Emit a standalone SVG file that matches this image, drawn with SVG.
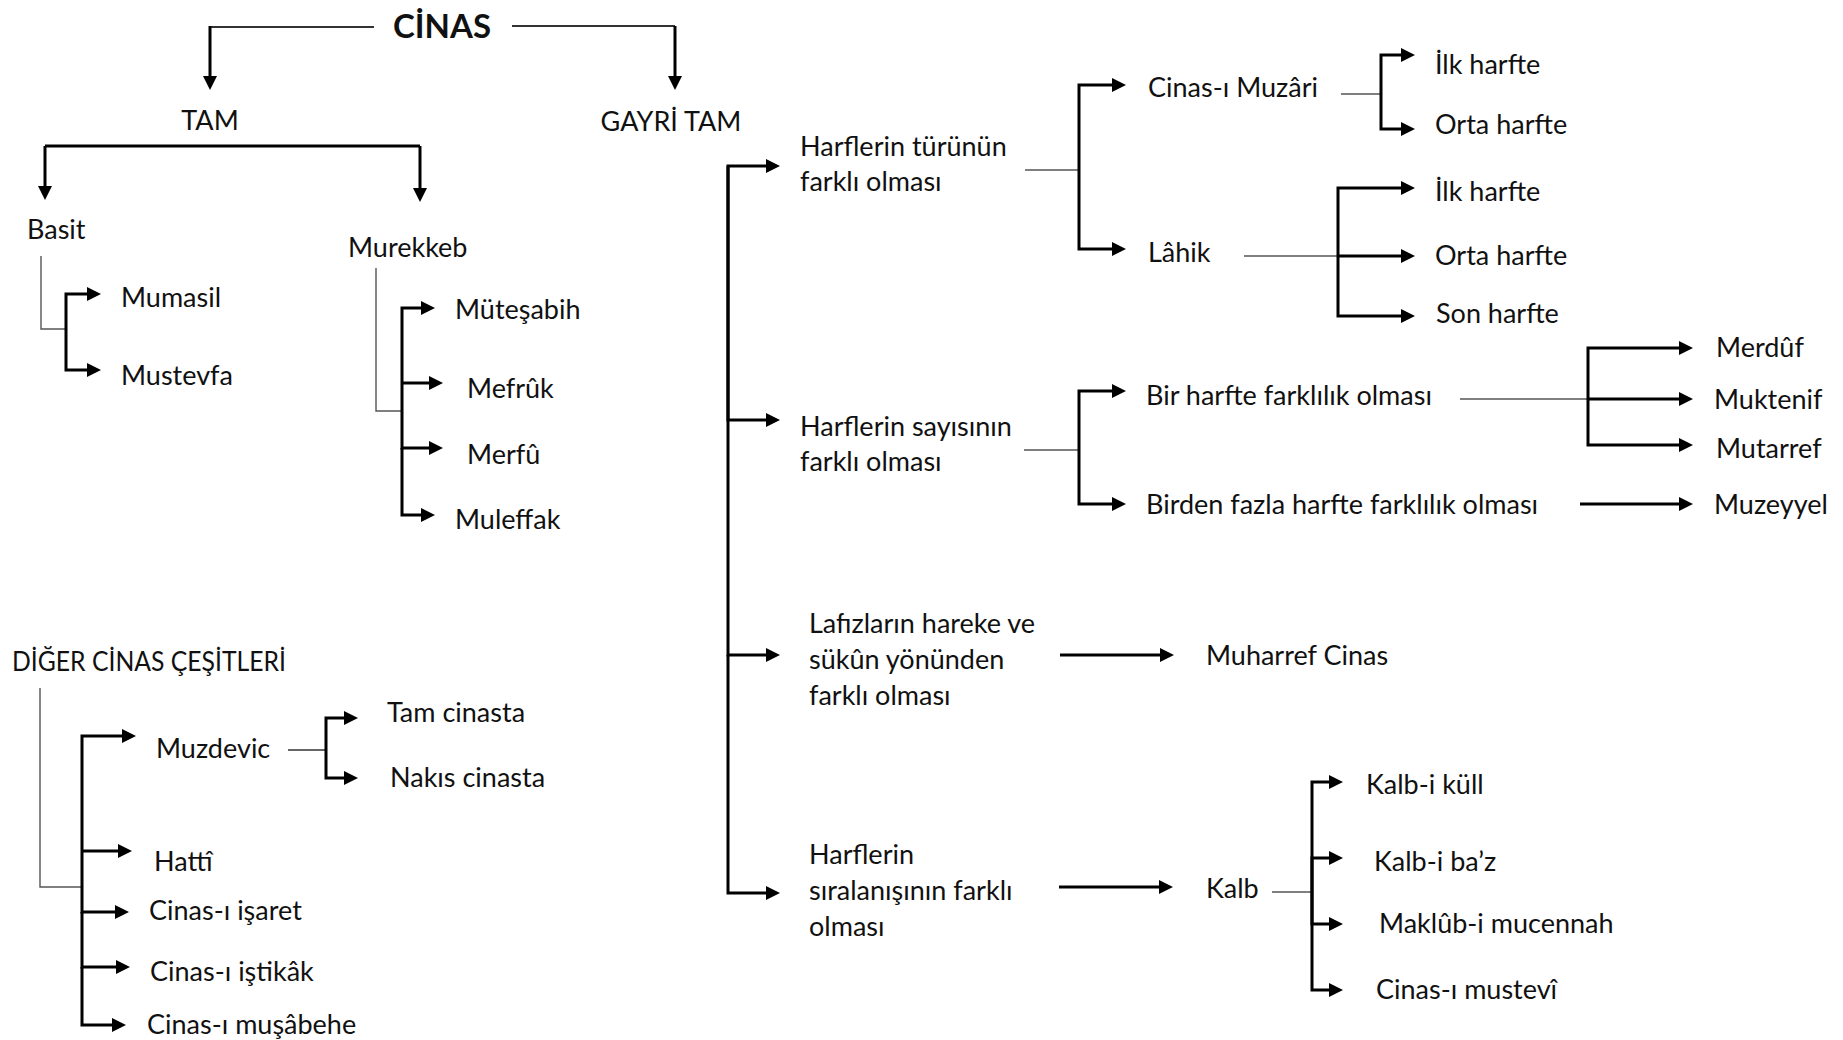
<svg xmlns="http://www.w3.org/2000/svg" width="1843" height="1040" viewBox="0 0 1843 1040">
<style>
text{font-family:Lato,"Liberation Sans",sans-serif;font-size:27px;fill:#111}
.title{font-weight:bold;font-size:33px}
.mid{text-anchor:middle}
.thick{fill:none;stroke:#000;stroke-width:3}
.thin{fill:none;stroke:#555;stroke-width:1.4}
.arr{marker-end:url(#ah)}
</style>
<defs>
<marker id="ah" viewBox="0 0 14 14" refX="3" refY="7" markerWidth="14" markerHeight="14" markerUnits="userSpaceOnUse" orient="auto">
<path d="M0,0 L14,7 L0,14 z" fill="#000"/>
</marker>
</defs>
<rect width="1843" height="1040" fill="#fff"/>
<g id="connectors">
<!-- CINAS -->
<path class="thin" d="M374,27 H210" style="stroke:#333;stroke-width:2"/>
<path class="thick arr" d="M210,26 V79"/>
<path class="thin" d="M512,26 H675" style="stroke:#333;stroke-width:2"/>
<path class="thick arr" d="M675,26 V79"/>
<!-- TAM -->
<path class="thick" d="M45,146 H420"/>
<path class="thick arr" d="M45,146 V189"/>
<path class="thick arr" d="M420,146 V191"/>
<!-- Basit -->
<path class="thin" d="M41,256 V329 H66"/>
<path class="thick arr" d="M66,329 V294 H90"/>
<path class="thick arr" d="M66,329 V370 H90"/>
<!-- Murekkeb -->
<path class="thin" d="M376,268 V411 H402"/>
<path class="thick arr" d="M402,411 V308 H424"/>
<path class="thick arr" d="M402,383 H432"/>
<path class="thick arr" d="M402,411 V448 H432"/>
<path class="thick arr" d="M402,448 V515 H424"/>
<!-- Diger -->
<path class="thin" d="M40,688 V887 H82"/>
<path class="thick arr" d="M82,887 V736 H125"/>
<path class="thick arr" d="M82,851 H121"/>
<path class="thick arr" d="M82,887 V912 H118"/>
<path class="thick arr" d="M82,912 V967 H119"/>
<path class="thick arr" d="M82,967 V1025 H115"/>
<!-- Muzdevic -->
<path class="thin" d="M288,750 H326" style="stroke:#333"/>
<path class="thick arr" d="M326,750 V718 H347"/>
<path class="thick arr" d="M326,750 V778 H347"/>
<!-- Gayri tam -->
<path class="thick arr" d="M728,420 V166 H769"/>
<path class="thick arr" d="M728,166 V420 H769"/>
<path class="thick arr" d="M728,420 V655 H769"/>
<path class="thick arr" d="M728,655 V893 H769"/>
<!-- Harflerin turunun -->
<path class="thin" d="M1025,170 H1079"/>
<path class="thick arr" d="M1079,170 V85 H1115"/>
<path class="thick arr" d="M1079,170 V249 H1115"/>
<!-- Muzari -->
<path class="thin" d="M1341,94 H1381"/>
<path class="thick arr" d="M1381,94 V55 H1404"/>
<path class="thick arr" d="M1381,94 V129 H1404"/>
<!-- Lahik -->
<path class="thin" d="M1244,256 H1338"/>
<path class="thick arr" d="M1338,256 V188 H1404"/>
<path class="thick arr" d="M1338,256 H1404"/>
<path class="thick arr" d="M1338,256 V316 H1404"/>
<!-- Sayisinin -->
<path class="thin" d="M1024,450 H1079"/>
<path class="thick arr" d="M1079,450 V391 H1115"/>
<path class="thick arr" d="M1079,450 V504 H1115"/>
<!-- Bir harfte -->
<path class="thin" d="M1460,399 H1588"/>
<path class="thick arr" d="M1588,399 V348 H1682"/>
<path class="thick arr" d="M1588,399 H1682"/>
<path class="thick arr" d="M1588,399 V445 H1682"/>
<!-- Birden fazla -->
<path class="thick arr" d="M1580,504 H1682"/>
<!-- Lafizlarin -->
<path class="thick arr" d="M1060,655 H1163"/>
<!-- Siralanisinin -->
<path class="thick arr" d="M1059,887 H1162"/>
<!-- Kalb -->
<path class="thin" d="M1272,892 H1312"/>
<path class="thick arr" d="M1312,892 V782 H1332"/>
<path class="thick arr" d="M1312,892 V858 H1332"/>
<path class="thick arr" d="M1312,892 V924 H1332"/>
<path class="thick arr" d="M1312,892 V990 H1332"/>
</g>
<g id="n-cinas"><text class="title mid" x="442" y="38">CİNAS</text></g>
<g id="n-tam"><text class="mid" x="210" y="130">TAM</text></g>
<g id="n-gayri"><text class="mid" x="671" y="131">GAYRİ TAM</text></g>
<g id="n-basit"><text x="27" y="239">Basit</text></g>
<g id="n-murekkeb"><text x="348" y="257">Murekkeb</text></g>
<g id="n-mumasil"><text x="121" y="307">Mumasil</text></g>
<g id="n-mustevfa"><text x="121" y="385">Mustevfa</text></g>
<g id="n-mutesabih"><text x="455" y="319">Müteşabih</text></g>
<g id="n-mefruk"><text x="467" y="398">Mefrûk</text></g>
<g id="n-merfu"><text x="467" y="464">Merfû</text></g>
<g id="n-muleffak"><text x="455" y="529">Muleffak</text></g>
<g id="n-diger"><text x="12" y="671" textLength="274" lengthAdjust="spacingAndGlyphs">DİĞER CİNAS ÇEŞİTLERİ</text></g>
<g id="n-muzdevic"><text x="156" y="758">Muzdevic</text></g>
<g id="n-tamcinasta"><text x="387" y="722">Tam cinasta</text></g>
<g id="n-nakis"><text x="390" y="787">Nakıs cinasta</text></g>
<g id="n-hatti"><text x="154" y="871">Hattî</text></g>
<g id="n-isaret"><text x="149" y="920">Cinas-ı işaret</text></g>
<g id="n-istikak"><text x="150" y="981">Cinas-ı iştikâk</text></g>
<g id="n-musabehe"><text x="147" y="1034">Cinas-ı muşâbehe</text></g>
<g id="n-turunun"><text x="800" y="156">Harflerin türünün</text><text x="800" y="191">farklı olması</text></g>
<g id="n-muzari"><text x="1148" y="97">Cinas-ı Muzâri</text></g>
<g id="n-lahik"><text x="1148" y="262">Lâhik</text></g>
<g id="n-ilk1"><text x="1435" y="74">İlk harfte</text></g>
<g id="n-orta1"><text x="1435" y="134">Orta harfte</text></g>
<g id="n-ilk2"><text x="1435" y="201">İlk harfte</text></g>
<g id="n-orta2"><text x="1435" y="265">Orta harfte</text></g>
<g id="n-son"><text x="1436" y="323">Son harfte</text></g>
<g id="n-sayisinin"><text x="800" y="436">Harflerin sayısının</text><text x="800" y="471">farklı olması</text></g>
<g id="n-birharfte"><text x="1146" y="405">Bir harfte farklılık olması</text></g>
<g id="n-birden"><text x="1146" y="514">Birden fazla harfte farklılık olması</text></g>
<g id="n-merduf"><text x="1716" y="357">Merdûf</text></g>
<g id="n-muktenif"><text x="1714" y="409">Muktenif</text></g>
<g id="n-mutarref"><text x="1716" y="458">Mutarref</text></g>
<g id="n-muzeyyel"><text x="1714" y="514">Muzeyyel</text></g>
<g id="n-lafiz"><text x="809" y="633">Lafızların hareke ve</text><text x="809" y="669">sükûn yönünden</text><text x="809" y="705">farklı olması</text></g>
<g id="n-muharref"><text x="1206" y="665">Muharref Cinas</text></g>
<g id="n-siralanis"><text x="809" y="864">Harflerin</text><text x="809" y="900">sıralanışının farklı</text><text x="809" y="936">olması</text></g>
<g id="n-kalb"><text x="1206" y="898">Kalb</text></g>
<g id="n-kulli"><text x="1366" y="794">Kalb-i küll</text></g>
<g id="n-baz"><text x="1374" y="871">Kalb-i ba’z</text></g>
<g id="n-maklub"><text x="1379" y="933">Maklûb-i mucennah</text></g>
<g id="n-mustevi"><text x="1376" y="999">Cinas-ı mustevî</text></g>
</svg>
